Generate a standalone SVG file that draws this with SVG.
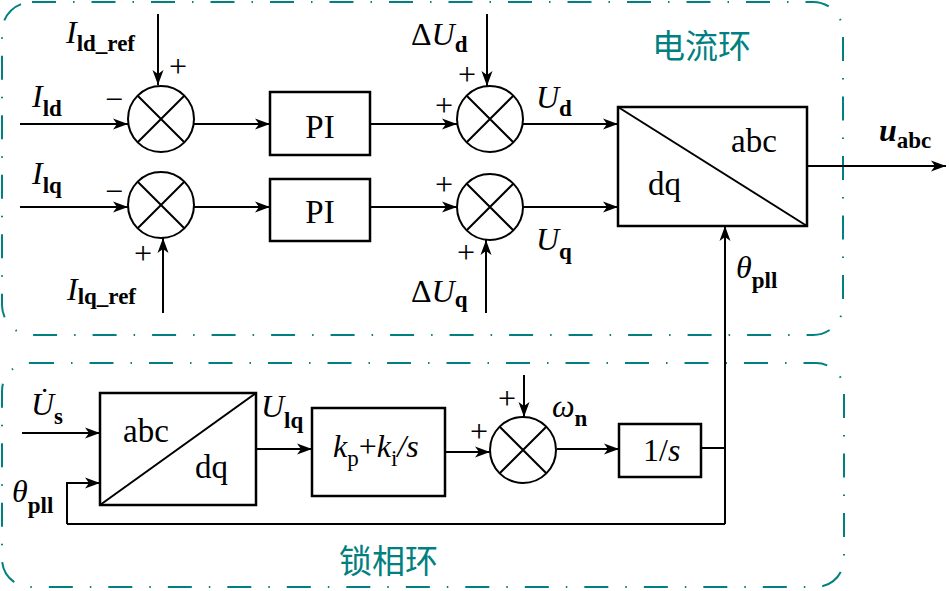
<svg xmlns="http://www.w3.org/2000/svg" width="949" height="591" viewBox="0 0 949 591">
<defs>
<marker id="ah" markerUnits="userSpaceOnUse" markerWidth="16" markerHeight="12" refX="15" refY="6" orient="auto">
<path d="M0,0.5 L15,6 L0,11.5 L4,6 z" fill="#000"/>
</marker>
<style>
.ln{fill:none;stroke:#000;stroke-width:2}
.ar{fill:none;stroke:#000;stroke-width:2;marker-end:url(#ah)}
.bx{fill:#fff;stroke:#000;stroke-width:2.5}
.cir{fill:#fff;stroke:#000;stroke-width:2}
.dash{fill:none;stroke:#008080;stroke-width:2;stroke-dasharray:24 17 1.5 17}
text{font-family:"Liberation Serif","Times New Roman",serif}
.t{fill:#000;font-size:32px}
.it{font-style:italic}
.sb{font-weight:bold;font-size:23px}
.pm{fill:#000;font-size:32px;text-anchor:middle}
.bt{fill:#000;font-size:33px}
.cn{fill:#008080;font-size:33px;font-family:"Noto Sans CJK SC",sans-serif}
</style>
</defs>

<g id="regions">
<rect class="dash" x="2" y="2" width="841" height="333" rx="30" ry="30"/>
<rect class="dash" x="2" y="363" width="842" height="224" rx="28" ry="28"/>
<text class="cn" x="652" y="58">电流环</text>
<text class="cn" x="339" y="573">锁相环</text>
</g>

<g id="connectors">
<path class="ar" d="M158,14 V85"/>
<path class="ar" d="M20,124 H128"/>
<path class="ar" d="M194,124 H270"/>
<path class="ar" d="M370,124 H457"/>
<path class="ar" d="M487,14 V86"/>
<path class="ar" d="M523,124 H618"/>
<path class="ar" d="M20,207 H128"/>
<path class="ar" d="M163,313 V238"/>
<path class="ar" d="M194,207 H270"/>
<path class="ar" d="M370,207 H457"/>
<path class="ar" d="M486,313 V240"/>
<path class="ar" d="M523,207 H618"/>
<path class="ar" d="M807,166 H946"/>
<path class="ar" d="M725,524 V226"/>
<path class="ar" d="M22,433 H100"/>
<path class="ar" d="M67,524 V483 H100"/>
<path class="ln" d="M67,524 H725"/>
<path class="ar" d="M256,449 H312"/>
<path class="ar" d="M445,452 H490"/>
<path class="ar" d="M524,375 V417"/>
<path class="ar" d="M557,449 H619"/>
<path class="ln" d="M701,448 H725"/>
</g>

<g id="sum1">
<circle class="cir" cx="161" cy="119" r="33"/>
<path class="ln" d="M137.7,95.7 L184.3,142.3 M184.3,95.7 L137.7,142.3"/>
</g>
<g id="sum2">
<circle class="cir" cx="161" cy="205" r="33"/>
<path class="ln" d="M137.7,181.7 L184.3,228.3 M184.3,181.7 L137.7,228.3"/>
</g>
<g id="sum3">
<circle class="cir" cx="490" cy="119" r="33"/>
<path class="ln" d="M466.7,95.7 L513.3,142.3 M513.3,95.7 L466.7,142.3"/>
</g>
<g id="sum4">
<circle class="cir" cx="490" cy="207" r="33"/>
<path class="ln" d="M466.7,183.7 L513.3,230.3 M513.3,183.7 L466.7,230.3"/>
</g>
<g id="sum5">
<circle class="cir" cx="523" cy="450" r="33"/>
<path class="ln" d="M499.7,426.7 L546.3,473.3 M546.3,426.7 L499.7,473.3"/>
</g>

<g id="pi1">
<rect class="bx" x="270" y="92" width="100" height="63"/>
<text class="bt" x="320" y="138" font-size="34" text-anchor="middle">PI</text>
</g>
<g id="pi2">
<rect class="bx" x="270" y="179" width="100" height="62"/>
<text class="bt" x="320" y="223" font-size="34" text-anchor="middle">PI</text>
</g>
<g id="dq2abc">
<rect class="bx" x="618" y="107" width="189" height="119"/>
<path class="ln" d="M618,107 L807,226"/>
<text class="bt" x="731" y="152">abc</text>
<text class="bt" x="648" y="195" font-size="34">dq</text>
</g>
<g id="abc2dq">
<rect class="bx" x="100" y="393" width="156" height="112"/>
<path class="ln" d="M100,505 L256,393"/>
<text class="bt" x="123" y="442">abc</text>
<text class="bt" x="195" y="478" font-size="34">dq</text>
</g>
<g id="pireg">
<rect class="bx" x="312" y="408" width="133" height="88"/>
<text class="t" x="333" y="457" font-size="34"><tspan class="it">k</tspan><tspan font-size="23" dy="9">p</tspan><tspan dy="-9">+</tspan><tspan class="it">k</tspan><tspan font-size="23" dy="9">i</tspan><tspan class="it" dy="-9">/s</tspan></text>
</g>
<g id="integ">
<rect class="bx" x="619" y="424" width="82" height="53"/>
<text class="t" x="643" y="461">1/<tspan class="it">s</tspan></text>
</g>

<g id="labels">
<text class="t" x="66" y="43"><tspan class="it">I</tspan><tspan class="sb" dy="8">ld_ref</tspan></text>
<text class="t" x="32" y="107"><tspan class="it">I</tspan><tspan class="sb" dy="9">ld</tspan></text>
<text class="t" x="32" y="184"><tspan class="it">I</tspan><tspan class="sb" dy="9">lq</tspan></text>
<text class="t" x="67" y="300"><tspan class="it">I</tspan><tspan class="sb" dy="4">lq_ref</tspan></text>
<text class="pm" x="114" y="110">−</text>
<text class="pm" x="114" y="202">−</text>
<text class="pm" x="178" y="77">+</text>
<text class="pm" x="143" y="264">+</text>
<text class="t" x="411" y="45">Δ<tspan class="it">U</tspan><tspan class="sb" dy="7">d</tspan></text>
<text class="pm" x="467" y="85">+</text>
<text class="pm" x="444" y="116">+</text>
<text class="t" x="536" y="108"><tspan class="it">U</tspan><tspan class="sb" dy="8">d</tspan></text>
<text class="pm" x="444" y="195">+</text>
<text class="pm" x="466" y="263">+</text>
<text class="t" x="536" y="250"><tspan class="it">U</tspan><tspan class="sb" dy="9">q</tspan></text>
<text class="t" x="411" y="302">Δ<tspan class="it">U</tspan><tspan class="sb" dy="5">q</tspan></text>
<text class="t it" x="879" y="141" font-size="30" font-weight="bold">u<tspan class="sb" font-style="normal" dy="7">abc</tspan></text>
<text class="t" x="736" y="278"><tspan class="it">θ</tspan><tspan class="sb" dy="10">pll</tspan></text>
<text class="t" x="31" y="415"><tspan class="it">U&#x307;</tspan><tspan class="sb" dy="9">s</tspan></text>
<text class="t" x="12" y="502"><tspan class="it">θ</tspan><tspan class="sb" dy="11">pll</tspan></text>
<text class="t" x="261" y="417"><tspan class="it">U</tspan><tspan class="sb" dy="11">lq</tspan></text>
<text class="pm" x="507" y="409">+</text>
<text class="pm" x="479" y="442">+</text>
<text class="t" x="552" y="417"><tspan class="it">ω</tspan><tspan class="sb" dy="9">n</tspan></text>
</g>
</svg>
